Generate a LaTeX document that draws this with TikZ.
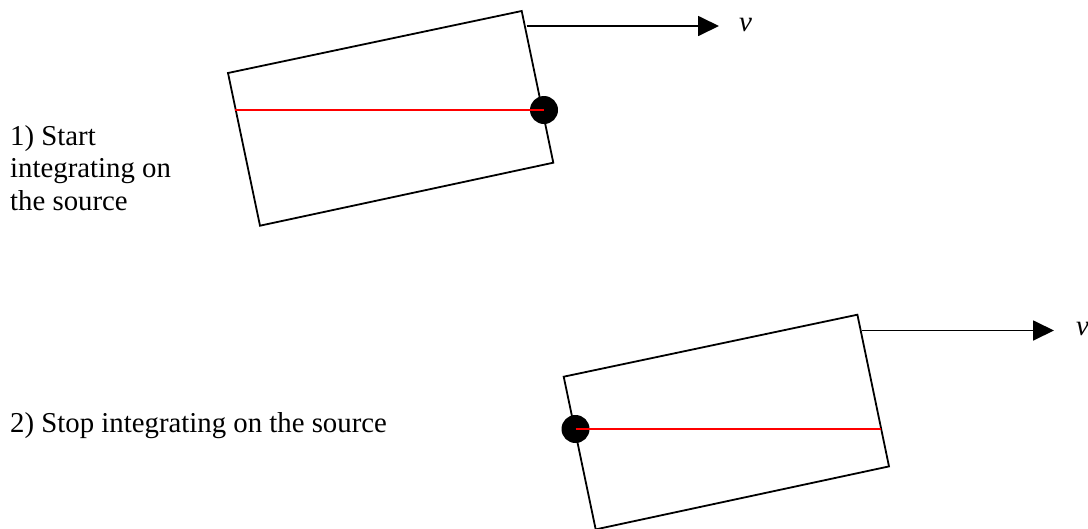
\documentclass[tikz,border=0pt]{standalone}
\usepackage{fontspec}
\setmainfont{Liberation Serif}
\usetikzlibrary{arrows.meta}
\tikzset{
  edge/.style={line width=1.8pt, line join=miter},
  srcline/.style={red, line width=1.5pt},
  srcdot/.style={circle, fill=black, minimum size=28pt, inner sep=0pt},
  velo/.style={line width=1.8pt, -{Triangle[length=21pt, width=20pt]}},
  lbl/.style={font=\fontsize{28.8}{33}\selectfont, inner sep=0pt, anchor=base west},
  vlbl/.style={font=\fontsize{29}{33}\selectfont\itshape, inner sep=0pt, anchor=base west}
}
\begin{document}
\begin{tikzpicture}[x=1pt, y=-1pt]
  \useasboundingbox (0,0) rectangle (1088,528);
  \clip (0,0) rectangle (1088,528);

  % ---- panel 1 ----
  \coordinate (p1tl) at (228,73);
  \coordinate (p1tr) at (521.7,11);
  \coordinate (p1br) at (553.3,162.7);
  \coordinate (p1bl) at (260,225.7);
  \draw[edge] (p1tl) -- (p1tr) -- (p1br) -- (p1bl) -- cycle;
  \node[srcdot] (d1) at (544,110) {};
  \coordinate (r1s) at (235,110);
  \draw[srcline] (r1s) -- (d1.center);
  \coordinate (a1s) at (526.7,26);
  \coordinate (a1e) at (719,26);
  \draw[velo] (a1s) -- (a1e);
  \node[vlbl] (v1) at (739,31) {v};

  \node[lbl] (t1a) at (10,145) {1) Start};
  \node[lbl] (t1b) at (10,177.5) {integrating on};
  \node[lbl] (t1c) at (10,210) {the source};

  % ---- panel 2 ----
  \coordinate (p2tl) at (563.7,376.7);
  \coordinate (p2tr) at (857.4,314.7);
  \coordinate (p2br) at (889,466.4);
  \coordinate (p2bl) at (595.7,529.4);
  \draw[edge] (p2tl) -- (p2tr) -- (p2br) -- (p2bl) -- cycle;
  \node[srcdot] (d2) at (575.5,429) {};
  \coordinate (r2e) at (881,429);
  \draw[srcline] (d2.center) -- (r2e);
  \coordinate (a2s) at (862.4,330.5);
  \coordinate (a2e) at (1054,330.5);
  \draw[velo] (a2s) -- (a2e);
  \node[vlbl] (v2) at (1076,335) {v};

  \node[lbl] (t2) at (10,432) {2) Stop integrating on the source};
\end{tikzpicture}
\end{document}
